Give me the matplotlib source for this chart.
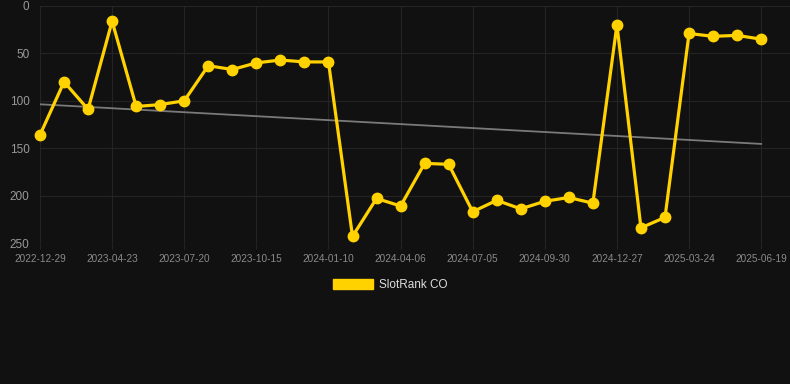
"""Rank history chart, dark theme"""

import numpy as np
from matplotlib import pyplot as plt
from matplotlib.patches import Patch

dates = [
    "2022-12-29", "2023-02-06", "2023-03-16", "2023-04-23", "2023-05-22",
    "2023-06-20", "2023-07-20", "2023-08-18", "2023-09-16", "2023-10-15",
    "2023-11-13", "2023-12-12", "2024-01-10", "2024-02-08", "2024-03-08",
    "2024-04-06", "2024-05-06", "2024-06-05", "2024-07-05", "2024-08-03",
    "2024-09-01", "2024-09-30", "2024-10-29", "2024-11-28", "2024-12-27",
    "2025-01-25", "2025-02-23", "2025-03-24", "2025-04-22", "2025-05-21",
    "2025-06-19",
]
ranks = [
    136, 80, 109, 16, 106, 104, 100, 63, 67, 60,
    57, 59, 59, 243, 203, 211, 166, 167, 217, 205,
    214, 206, 202, 208, 20, 234, 223, 29, 32, 31,
    35,
]
series_name = "SlotRank CO"
y_ticks = [0, 50, 100, 150, 200, 250]

bg = "#111111"
grid_col = "#242424"
gold = "#FFD200"

plt.rcParams['font.family'] = ['Liberation Sans', 'DejaVu Sans']

fig = plt.figure(figsize=(7.9, 3.84), dpi=100, facecolor=bg)
ax = fig.add_axes([40 / 790, 1 - 243 / 384, 750 / 790, 237 / 384])
ax.set_facecolor(bg)

x = np.arange(len(ranks))
# linear trend over the series
coef = np.polyfit(x, ranks, 1)
ax.plot(x, np.polyval(coef, x), color="#7a7a7a", lw=1.3, zorder=2)
ax.plot(x, ranks, color=gold, lw=2.3, marker='o', markersize=7.5,
        zorder=3, solid_joinstyle='miter', clip_on=False)

ax.set_xlim(0, 31.2)
ax.set_ylim(250, 0)
ax.set_yticks(y_ticks)
ax.set_xticks(x[::3])
ax.set_xticklabels(dates[::3])

ax.grid(True, color=grid_col, lw=0.8)
ax.set_axisbelow(True)
for s in ax.spines.values():
    s.set_visible(False)
ax.tick_params(axis='x', colors=grid_col, length=4, width=0.8, pad=4,
               labelcolor="#8a8a8a", labelsize=7.2)
ax.tick_params(axis='y', length=0, pad=7.5, labelcolor="#999999", labelsize=8.5)

handle = Patch(facecolor=gold, edgecolor=gold)
leg = fig.legend([handle], [series_name], loc='center',
                 bbox_to_anchor=(390 / 790, 1 - 285 / 384),
                 frameon=False, fontsize=8.5, handlelength=3.4,
                 handleheight=0.95, handletextpad=0.5)
for t in leg.get_texts():
    t.set_color("#dddddd")

fig.savefig("out.png", dpi=100, facecolor=bg)
